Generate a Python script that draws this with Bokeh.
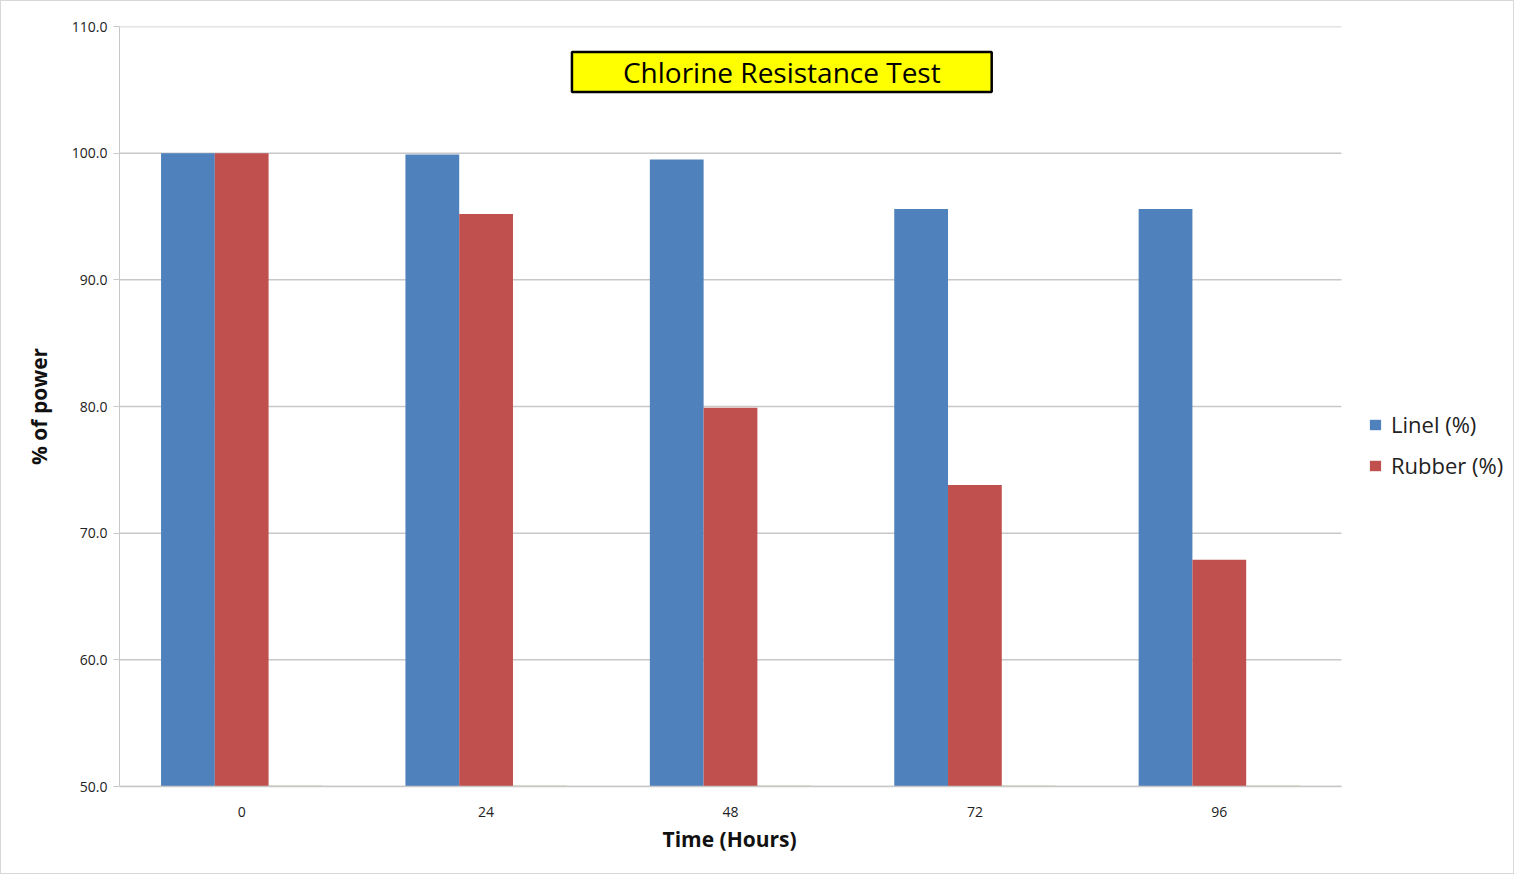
from bokeh.plotting import figure
from bokeh.models import (ColumnDataSource, Range1d, FixedTicker,
                          NumeralTickFormatter, Legend, LegendItem, Label, Title)
from bokeh.transform import dodge
from bokeh.embed import file_html
from bokeh.resources import INLINE

# ---- data ----
times = ["0", "24", "48", "72", "96"]
linel = [100.0, 99.9, 99.5, 95.6, 95.6]
rubber = [100.0, 95.2, 79.9, 73.8, 67.9]
other = [0.0, 0.0, 0.0, 0.0, 0.0]
y_ticks = [50, 60, 70, 80, 90, 100, 110]

Y0, Y1 = 50, 110
FONT = "Open Sans"
N = len(times)
PLOT_W = 1222          # pixel width of the category area
FRAME_W = 1394         # frame also hosts the legend on the right

xpos = [i + 0.5 for i in range(N)]
src = ColumnDataSource(dict(
    x=xpos, time=times, linel=linel, rubber=rubber,
    other_top=[max(v, Y0) for v in other],
    base=[Y0] * N,
))

p = figure(x_range=Range1d(0, N * FRAME_W / PLOT_W),
           y_range=Range1d(Y0, Y1),
           frame_width=FRAME_W, frame_height=760,
           min_border_left=118, min_border_top=25, min_border_bottom=87,
           min_border_right=0,
           output_backend="svg", toolbar_location=None,
           background_fill_color="white", border_fill_color="white")
p.outline_line_color = None
p.styles = {"border": "1px solid #d8d8d8"}

# horizontal gridlines spanning only the category area
p.xgrid.visible = False
p.ygrid.visible = False
p.segment(x0=[0] * len(y_ticks), x1=[N] * len(y_ticks), y0=y_ticks, y1=y_ticks,
          line_color="#c8c8c8", line_width=1.5)

W = 0.22
r1 = p.vbar(x=dodge("x", -W), top="linel", bottom="base",
            width=W, source=src, fill_color="#4F81BD", line_color=None)
r2 = p.vbar(x=dodge("x", 0), top="rubber", bottom="base",
            width=W, source=src, fill_color="#C0504D", line_color=None)
r3 = p.vbar(x=dodge("x", W), top="other_top", bottom="base",
            width=W, source=src, fill_color="#9BBB59", line_color="#9BBB59",
            line_width=1.5)

# axes
p.yaxis.ticker = FixedTicker(ticks=y_ticks)
p.yaxis.formatter = NumeralTickFormatter(format="0.0")
p.yaxis.major_label_text_font = FONT
p.yaxis.major_label_text_font_size = "14px"
p.yaxis.major_label_text_color = "#222222"
p.yaxis.axis_line_color = "#c8c8c8"
p.yaxis.major_tick_line_color = "#c8c8c8"
p.yaxis.major_tick_in = 0
p.yaxis.major_tick_out = 6
p.yaxis.minor_tick_line_color = None
p.yaxis.major_label_standoff = 6
p.yaxis.axis_label = "% of power"
p.yaxis.axis_label_text_font = FONT
p.yaxis.axis_label_text_font_size = "21px"
p.yaxis.axis_label_text_font_style = "bold"
p.yaxis.axis_label_text_color = "#111111"
p.yaxis.axis_label_standoff = 16

p.xaxis.ticker = FixedTicker(ticks=xpos)
p.xaxis.major_label_overrides = {x: t for x, t in zip(xpos, times)}
p.xaxis.bounds = (0, N)
p.xaxis.major_label_text_font = FONT
p.xaxis.major_label_text_font_size = "14px"
p.xaxis.major_label_text_color = "#222222"
p.xaxis.axis_line_color = "#c8c8c8"
p.xaxis.axis_line_width = 1.5
p.xaxis.major_tick_line_color = None
p.xaxis.minor_tick_line_color = None
p.xaxis.major_label_standoff = 14

# x axis title, centred under the category area
xtitle = Title(text="Time (Hours)", align="left", text_font=FONT,
               text_font_size="21px", text_font_style="bold",
               text_color="#111111", standoff=6, offset=543)
p.add_layout(xtitle, "below")

# chart title box
title = Label(x=2.71, y=106.4, text="Chlorine Resistance Test",
              text_font=FONT, text_font_size="28px", text_color="black",
              text_align="center", text_baseline="middle",
              background_fill_color="#ffff00", border_line_color="black",
              border_line_width=2.5,
              padding=dict(left=51, right=51, top=1, bottom=1))
p.add_layout(title)

legend = Legend(items=[LegendItem(label="Linel (%)", renderers=[r1]),
                       LegendItem(label="Rubber (%)", renderers=[r2])],
                location=(1249, 306), orientation="vertical",
                border_line_color=None, background_fill_alpha=0,
                glyph_width=14, glyph_height=13, label_text_font=FONT,
                label_text_font_size="22px", label_text_color="#222222",
                label_standoff=9, spacing=11, padding=8, margin=0)
p.add_layout(legend)

open("out.html", "w").write(file_html(p, INLINE))
